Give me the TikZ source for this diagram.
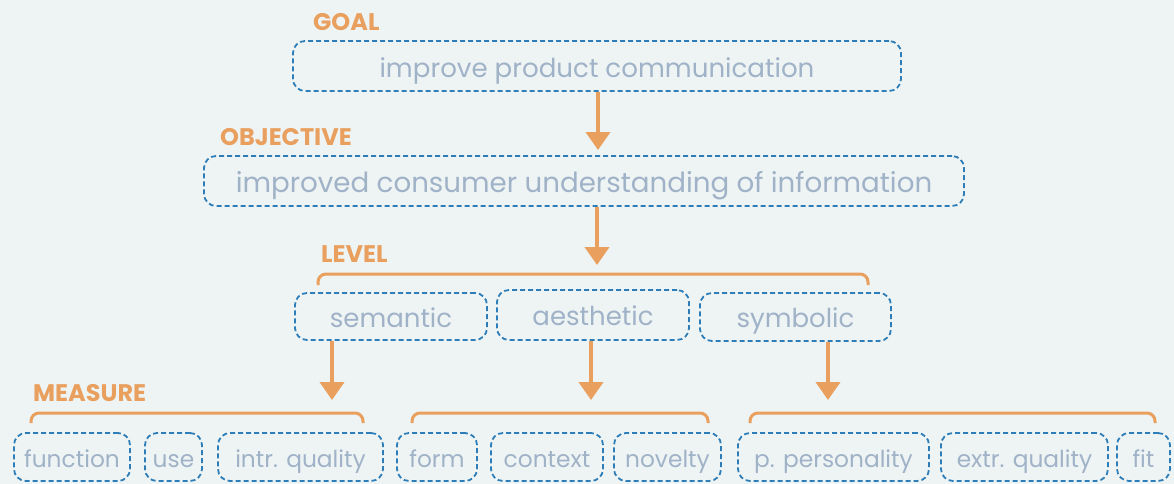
\documentclass[tikz,border=0pt]{standalone}
\usepackage{fontspec}
\setmainfont{Poppins}
\usetikzlibrary{arrows.meta}
\definecolor{bg}{HTML}{EEF4F4}
\definecolor{org}{HTML}{E99F5E}
\definecolor{dblue}{HTML}{2D7DB8}
\definecolor{txt}{HTML}{A0B2C7}
\begin{document}
\begin{tikzpicture}[x=1pt,y=-1pt,
  box/.style={draw=dblue, line width=1.8pt, dash pattern=on 5pt off 3pt, rounded corners=12pt,
    text=txt, font=\fontsize{23.3}{25}\selectfont, inner sep=0pt, minimum height=48pt,
    text height=21pt, text depth=0pt},
  levbox/.style={box, font=\fontsize{26}{28}\selectfont, text height=21pt},
  bigbox/.style={box, minimum height=50pt, font=\fontsize{27}{29}\selectfont, text height=23pt},
  lbl/.style={text=org, font=\fontsize{24}{26}\selectfont\bfseries, anchor=west, inner sep=0pt},
  arr/.style={draw=org, line width=4pt, -{Triangle[width=24pt,length=18pt]}},
  brace/.style={draw=org, line width=3pt, rounded corners=8pt}]
\fill[bg] (0,0) rectangle (1174,484);
\useasboundingbox (0,0) rectangle (1174,484);
% labels
\node[lbl] (lgoal) at (313,22) {GOAL};
\node[lbl] (lobj) at (220,137) {OBJECTIVE};
\node[lbl] (llev) at (321,254) {LEVEL};
\node[lbl] (lmeas) at (33,393) {MEASURE};
% top boxes
\node[bigbox, minimum width=608pt, font=\fontsize{26.1}{28}\selectfont] (goal) at (597,66) {improve product communication};
\node[bigbox, minimum width=760pt, font=\fontsize{27.7}{29}\selectfont] (obj) at (584,181) {improved consumer understanding of information};
% level boxes
\node[levbox, minimum width=192pt, minimum height=47pt] (sem) at (391,316.5) {semantic};
\node[levbox, minimum width=192pt, minimum height=50pt] (aes) at (593,315) {aesthetic};
\node[levbox, minimum width=191pt, minimum height=48pt] (sym) at (795.5,317) {symbolic};
% measure boxes
\node[box, minimum width=116pt] (m1) at (72,457) {function};
\node[box, minimum width=57pt] (m2) at (173.5,457) {use};
\node[box, minimum width=165pt] (m3) at (300.5,457) {intr. quality};
\node[box, minimum width=80pt] (m4) at (437,457) {form};
\node[box, minimum width=112pt] (m5) at (547,457) {context};
\node[box, minimum width=107pt] (m6) at (667.5,457) {novelty};
\node[box, minimum width=191pt] (m7) at (833.5,457) {p. personality};
\node[box, minimum width=167pt] (m8) at (1024.5,457) {extr. quality};
\node[box, minimum width=53pt] (m9) at (1143.5,457) {fit};
% arrow ends
\coordinate (e1) at (598,150);
\coordinate (e2) at (597,265);
\coordinate (e3) at (332,400);
\coordinate (e4) at (591,400);
\coordinate (e5) at (828,400);
\draw[arr] (e1 |- goal.south) -- (e1);
\draw[arr] (e2 |- obj.south) -- (e2);
\draw[arr] (e3 |- sem.south) -- (e3);
\draw[arr] (e4 |- aes.south) -- (e4);
\draw[arr] (e5 |- sym.south) -- (e5);
% braces
\coordinate (b0l) at (318,285); \coordinate (b0r) at (868,285);
\draw[brace] (b0l) -- ++(0,-11) -| (b0r);
\coordinate (b1l) at (31,423); \coordinate (b1r) at (363,423);
\draw[brace] (b1l) -- ++(0,-10) -| (b1r);
\coordinate (b2l) at (412,423); \coordinate (b2r) at (708,423);
\draw[brace] (b2l) -- ++(0,-10) -| (b2r);
\coordinate (b3l) at (750,423); \coordinate (b3r) at (1155,423);
\draw[brace] (b3l) -- ++(0,-10) -| (b3r);
\end{tikzpicture}
\end{document}
